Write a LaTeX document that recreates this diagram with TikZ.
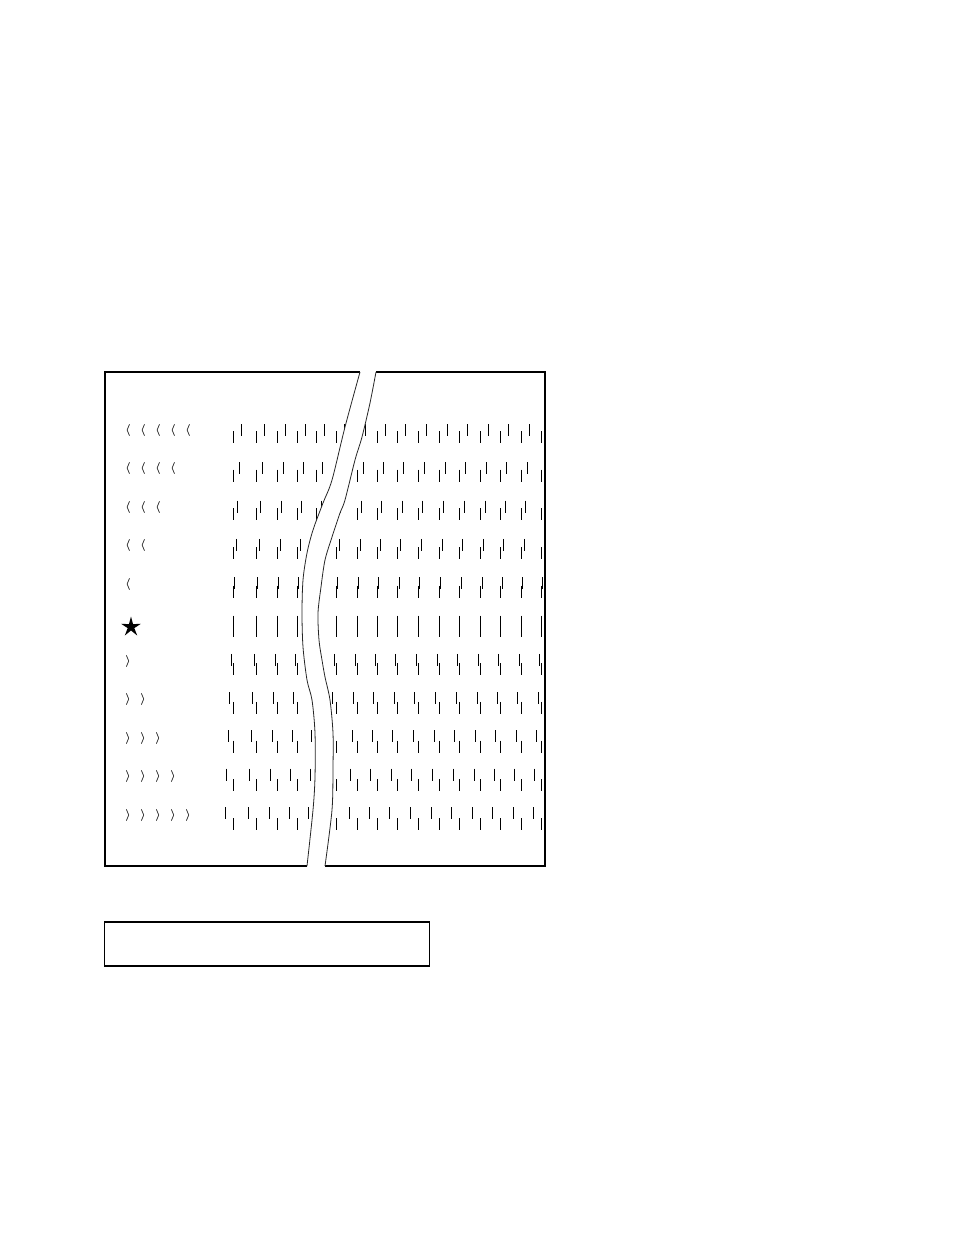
\documentclass[tikz,border=0pt]{standalone}
\usetikzlibrary{shapes.geometric}
\begin{document}
\begin{tikzpicture}[x=1pt,y=-1pt,
  frame/.style={line width=1.3pt},
  tickline/.style={line width=1.0pt},
  cutline/.style={line width=0.8pt, draw=black!85},
  sym/.style={inner sep=0pt, font=\large\boldmath},
  starsym/.style={star, star points=5, star point ratio=3, minimum size=21pt, inner sep=0pt, fill=black}]
\useasboundingbox (0,0) rectangle (954,1235);
% scale ticks
\foreach \i in {0,...,10} {
  \pgfmathsetmacro\yc{433.5+38.5*\i}
  \pgfmathsetmacro\d{(5-\i)*1.6}
  \pgfmathsetmacro\ov{3+0.4*(5-\i)}
  \pgfmathsetmacro\hs{(24-\ov)/2}
  \foreach \x in {233,256,277,297,316.5,336,357,377,397.5,418,439,459.5,480.5,500.5,521,541.3} {
    \draw[tickline] (\x,\yc+\hs-12) -- (\x,\yc+\hs);
    \pgfmathsetmacro\xu{\x+\d}
    \ifdim\xu pt<544pt \draw[tickline] (\xu,\yc-\hs) -- (\xu,\yc-\hs+12); \fi
  }
}
% gap between the two pieces
\fill[white] plot[smooth] coordinates {(360,372) (345,427) (332,480) (323,503) (313,530) (307,553) (303,580) (302,613) (303,647) (307,680) (312,700) (315,733) (315,777) (313,810) (307,866)}
  -- plot[smooth] coordinates {(325,866) (332,810) (333,767) (333,733) (330,700) (325,677) (322,660) (319,640) (318,613) (321,587) (325,560) (332,537) (340,513) (345,500) (355,460) (362,437) (370,403) (376,372)} -- cycle;
% left piece
\draw[frame] (307,866) -- (105,866) -- (105,372) -- (360,372);
\draw[cutline] plot[smooth] coordinates {(360,372) (345,427) (332,480) (323,503) (313,530) (307,553) (303,580) (302,613) (303,647) (307,680) (312,700) (315,733) (315,777) (313,810) (307,866)};
% right piece
\draw[frame] (376,372) -- (545,372) -- (545,866) -- (325,866);
\draw[cutline] plot[smooth] coordinates {(376,372) (370,403) (362,437) (355,460) (345,500) (340,513) (332,537) (325,560) (321,587) (318,613) (319,640) (322,660) (325,677) (330,700) (333,733) (333,767) (332,810) (325,866)};
% symbols
\foreach \i in {0,...,4} {
  \pgfmathtruncatemacro\n{5-\i}
  \foreach \k in {1,...,\n} {
    \node[sym] (lt\i-\k) at (128+15*\k-15, 430+38.5*\i) {$\langle$};
  }
}
\node[starsym] (star) at (131,627) {};
\foreach \i in {6,...,10} {
  \pgfmathtruncatemacro\n{\i-5}
  \foreach \k in {1,...,\n} {
    \node[sym] (gt\i-\k) at (128+15*\k-15, 430+38.5*\i) {$\rangle$};
  }
}
% empty box below
\node[draw, line width=1.3pt, minimum width=325pt, minimum height=44pt, inner sep=0pt] (box) at (267,944) {};
\end{tikzpicture}
\end{document}
